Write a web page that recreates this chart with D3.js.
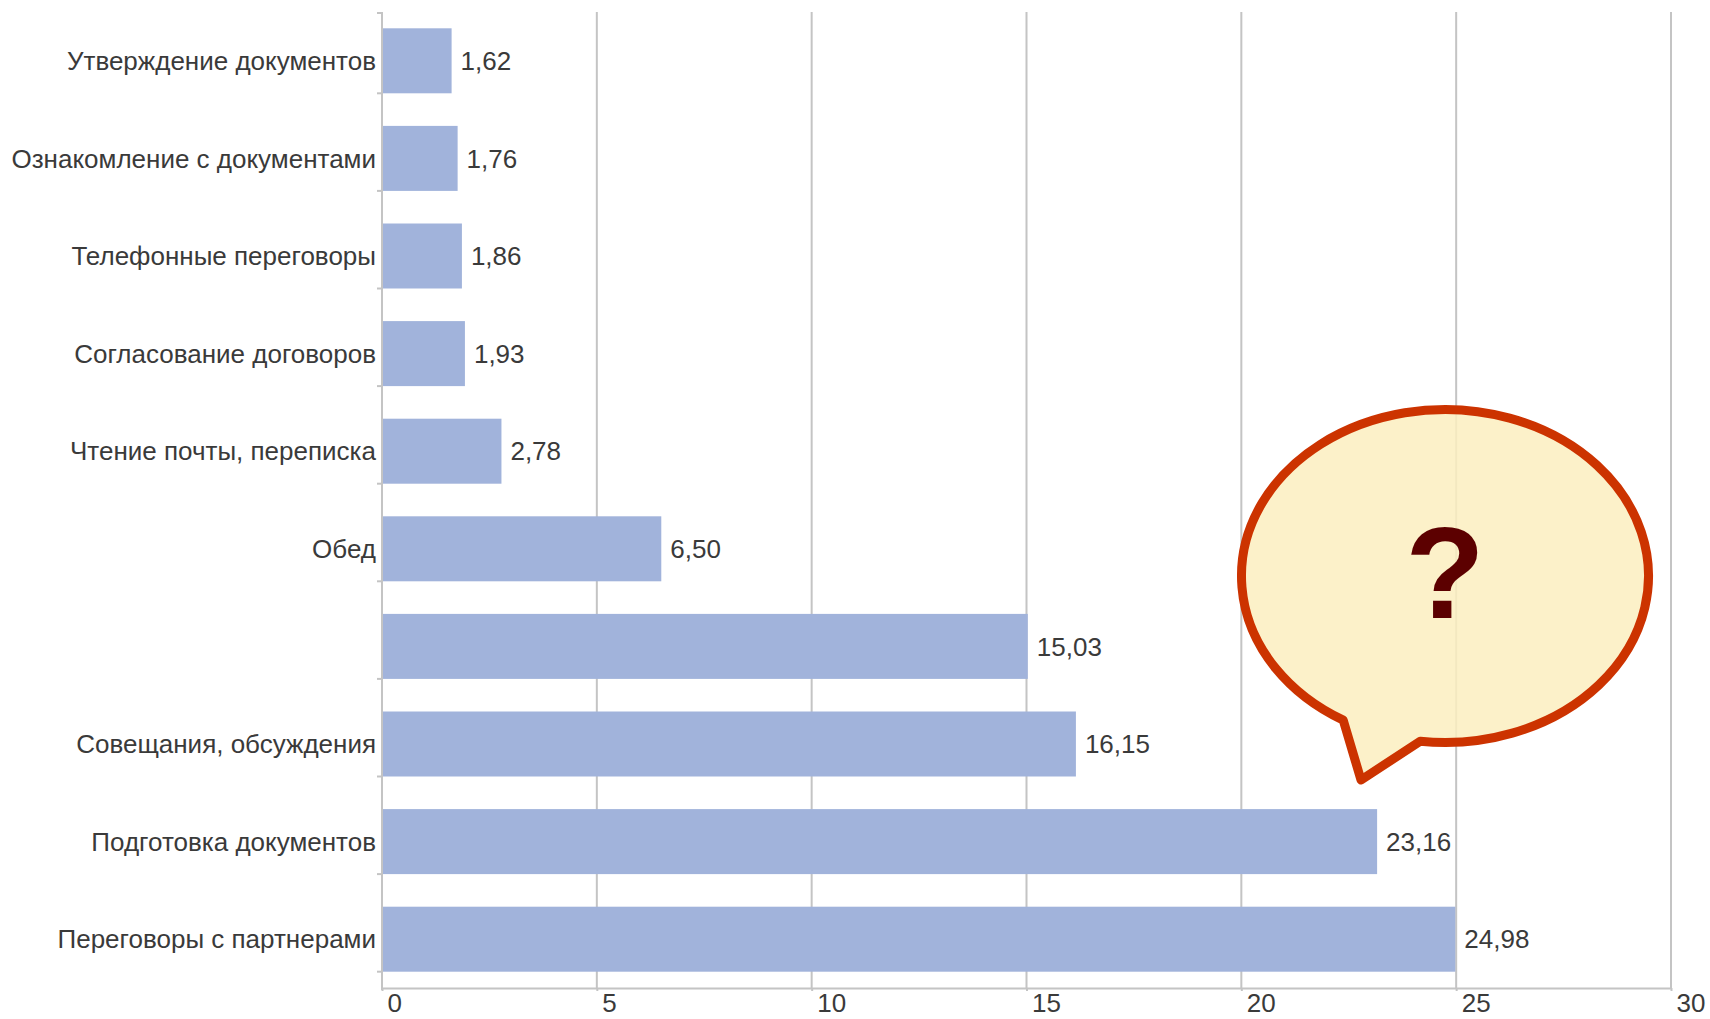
<!DOCTYPE html>
<html>
<head>
<meta charset="utf-8">
<script src="https://cdn.jsdelivr.net/npm/d3@7"></script>
<style>
  html, body { margin: 0; padding: 0; background: #ffffff; }
  svg { display: block; }
  text { font-family: "Liberation Sans", Arial, sans-serif; }
</style>
</head>
<body>
<svg id="chart" width="1710" height="1019"></svg>
<script>
// Activities (top to bottom) and the share of time spent on each, %
const categories = [
  "Утверждение документов",
  "Ознакомление с документами",
  "Телефонные переговоры",
  "Согласование договоров",
  "Чтение почты, переписка",
  "Обед",
  "",
  "Совещания, обсуждения",
  "Подготовка документов",
  "Переговоры с партнерами"
];
const values = [1.62, 1.76, 1.86, 1.93, 2.78, 6.50, 15.03, 16.15, 23.16, 24.98];
const xTicks = [0, 5, 10, 15, 20, 25, 30];
const xDomain = [0, 30];

const svg = d3.select("#chart");

const plot = { left: 382, right: 1671, top: 12, bottom: 988 };
const gridColor = "#c4c4c4";
const textColor = "#3a3a3a";
const barColor = "#a1b3db";
const fontSize = 26;

const x = d3.scaleLinear().domain(xDomain).range([plot.left, plot.right]);
const y = d3.scaleBand()
  .domain(d3.range(categories.length))
  .range([plot.top, plot.bottom])
  .paddingInner(0.334)
  .paddingOuter(0.167);

const fmt = v => d3.format(".2f")(v).replace(".", ",");

// vertical gridlines
svg.append("g")
  .selectAll("line")
  .data(xTicks.filter(t => t > 0))
  .join("line")
  .attr("x1", d => x(d)).attr("x2", d => x(d))
  .attr("y1", plot.top).attr("y2", plot.bottom)
  .attr("stroke", gridColor).attr("stroke-width", 2);

// bottom axis
const xAxis = svg.append("g")
  .attr("transform", `translate(0,${plot.bottom})`)
  .call(d3.axisBottom(x).tickValues(xTicks).tickSize(3).tickSizeOuter(0).tickFormat(d => d));
xAxis.select(".domain").attr("stroke", gridColor).attr("stroke-width", 2);
xAxis.selectAll(".tick line").attr("stroke", gridColor).attr("stroke-width", 2);
xAxis.selectAll(".tick text")
  .attr("text-anchor", "start")
  .attr("x", 5).attr("y", 24).attr("dy", 0)
  .attr("fill", textColor)
  .style("font-size", fontSize + "px")
  .style("font-family", "'Liberation Sans', Arial, sans-serif");

// bars
svg.append("g")
  .selectAll("rect")
  .data(values)
  .join("rect")
  .attr("x", x(0))
  .attr("y", (d, i) => y(i))
  .attr("width", d => x(d) - x(0))
  .attr("height", y.bandwidth())
  .attr("fill", barColor);

// left axis line and its ticks (at the lower edge of each bar)
const yAxis = svg.append("g");
yAxis.append("line")
  .attr("x1", plot.left).attr("x2", plot.left)
  .attr("y1", plot.top).attr("y2", plot.bottom + 2)
  .attr("stroke", gridColor).attr("stroke-width", 2);
yAxis.selectAll("line.tick")
  .data([plot.top + 1].concat(categories.map((c, i) => y(i) + y.bandwidth())))
  .join("line")
  .attr("class", "tick")
  .attr("x1", plot.left - 5).attr("x2", plot.left)
  .attr("y1", d => d).attr("y2", d => d)
  .attr("stroke", gridColor).attr("stroke-width", 2);

// category labels
svg.append("g")
  .selectAll("text")
  .data(categories)
  .join("text")
  .attr("x", plot.left - 6)
  .attr("y", (d, i) => y(i) + y.bandwidth() / 2)
  .attr("dy", "0.35em")
  .attr("text-anchor", "end")
  .attr("fill", textColor)
  .style("font-size", fontSize + "px")
  .text(d => d);

// value labels
svg.append("g")
  .selectAll("text")
  .data(values)
  .join("text")
  .attr("x", d => x(d) + 9)
  .attr("y", (d, i) => y(i) + y.bandwidth() / 2)
  .attr("dy", "0.35em")
  .attr("fill", textColor)
  .style("font-size", fontSize + "px")
  .text(d => fmt(d));

// speech bubble with a question mark
const bubble = { cx: 1445, cy: 576, rx: 203.5, ry: 166.5, a1: 120, a2: 97, tip: [1361, 780] };
const pt = a => [bubble.cx + bubble.rx * Math.cos(a * Math.PI / 180),
                 bubble.cy + bubble.ry * Math.sin(a * Math.PI / 180)];
const b1 = pt(bubble.a1), b2 = pt(bubble.a2);
const bubblePath = `M${b1[0]},${b1[1]} L${bubble.tip[0]},${bubble.tip[1]} L${b2[0]},${b2[1]} ` +
  `A${bubble.rx},${bubble.ry} 0 1 0 ${b1[0]},${b1[1]} Z`;
const callout = svg.append("g");
callout.append("path")
  .attr("d", bubblePath)
  .attr("fill", "#fbefbf")
  .attr("fill-opacity", 0.85)
  .attr("stroke", "#cc3300")
  .attr("stroke-width", 9)
  .attr("stroke-linejoin", "round");
callout.append("text")
  .attr("x", bubble.cx)
  .attr("y", 618)
  .attr("text-anchor", "middle")
  .attr("fill", "#5c0000")
  .style("font-size", "130px")
  .style("font-weight", "bold")
  .text("?");
</script>
</body>
</html>
